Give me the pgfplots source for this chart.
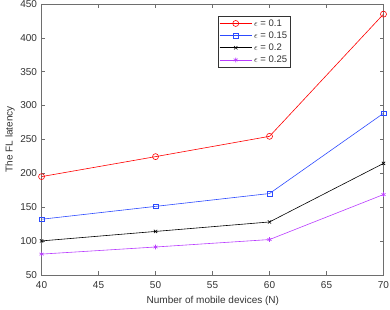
\documentclass[border=0pt]{standalone}
\usepackage{fontspec}
\setmainfont{Liberation Sans}
\usepackage{pgfplots}
\pgfplotsset{compat=1.18}
\definecolor{axgray}{RGB}{110,110,110}
\definecolor{labgray}{RGB}{50,50,50}
\definecolor{myred}{RGB}{255,0,0}
\definecolor{myblue}{RGB}{45,75,255}
\definecolor{mymag}{RGB}{185,60,255}
\begin{document}
\begin{tikzpicture}
\begin{axis}[
  scale only axis,
  width=341.5pt, height=270.4pt,
  xmin=40, xmax=70, ymin=50, ymax=450,
  xtick={40,45,...,70}, ytick={50,100,...,450},
  tick align=inside, major tick length=3.5pt,
  axis line style={axgray, line width=0.5pt},
  tick style={axgray, line width=0.5pt},
  /pgf/number format/assume math mode=true,
  ticklabel style={font=\fontsize{10}{11}\selectfont, text=labgray},
  xticklabel style={yshift=-3pt},
  yticklabel style={xshift=-1pt},
  label style={font=\fontsize{10}{11}\selectfont, text=labgray},
  xlabel={Number of mobile devices (N)},
  ylabel={The FL latency},
  xlabel style={at={(axis description cs:0.501,-0.0973)}, anchor=center},
  ylabel style={at={(axis description cs:-0.0922,0.5)}, anchor=center},
  legend style={at={(0.515,0.957)}, anchor=north west, draw=black!80, line width=0.5pt,
    font=\fontsize{9.5}{10}\selectfont, text=labgray, row sep=0pt, inner sep=1.5pt},
  legend cell align=left,
  legend image code/.code={\draw[mark repeat=2,mark phase=2,#1] plot coordinates {(0pt,0pt) (16pt,0pt) (32pt,0pt)};},
]
\addplot[myred, line width=0.6pt, mark=o, mark size=3pt, mark options={solid}] coordinates {(40,195) (50,224.5) (60,254.5) (70,435)};
\addlegendentry{$\epsilon$ = 0.1}
\addplot[myblue, line width=0.6pt, mark=square, mark size=2.4pt] coordinates {(40,132) (50,151) (60,170) (70,288.5)};
\addlegendentry{$\epsilon$ = 0.15}
\addplot[black, line width=0.6pt, mark=x, mark size=2.3pt] coordinates {(40,100) (50,114) (60,128) (70,214.5)};
\addlegendentry{$\epsilon$ = 0.2}
\addplot[mymag, line width=0.6pt, mark=asterisk, mark size=2.4pt] coordinates {(40,80.5) (50,91) (60,102) (70,168.5)};
\addlegendentry{$\epsilon$ = 0.25}
\end{axis}
\pgfresetboundingbox
\path ([xshift=-41.5pt,yshift=-34.6pt]current axis.south west) rectangle ([xshift=6.5pt,yshift=4pt]current axis.north east);
\end{tikzpicture}
\end{document}
